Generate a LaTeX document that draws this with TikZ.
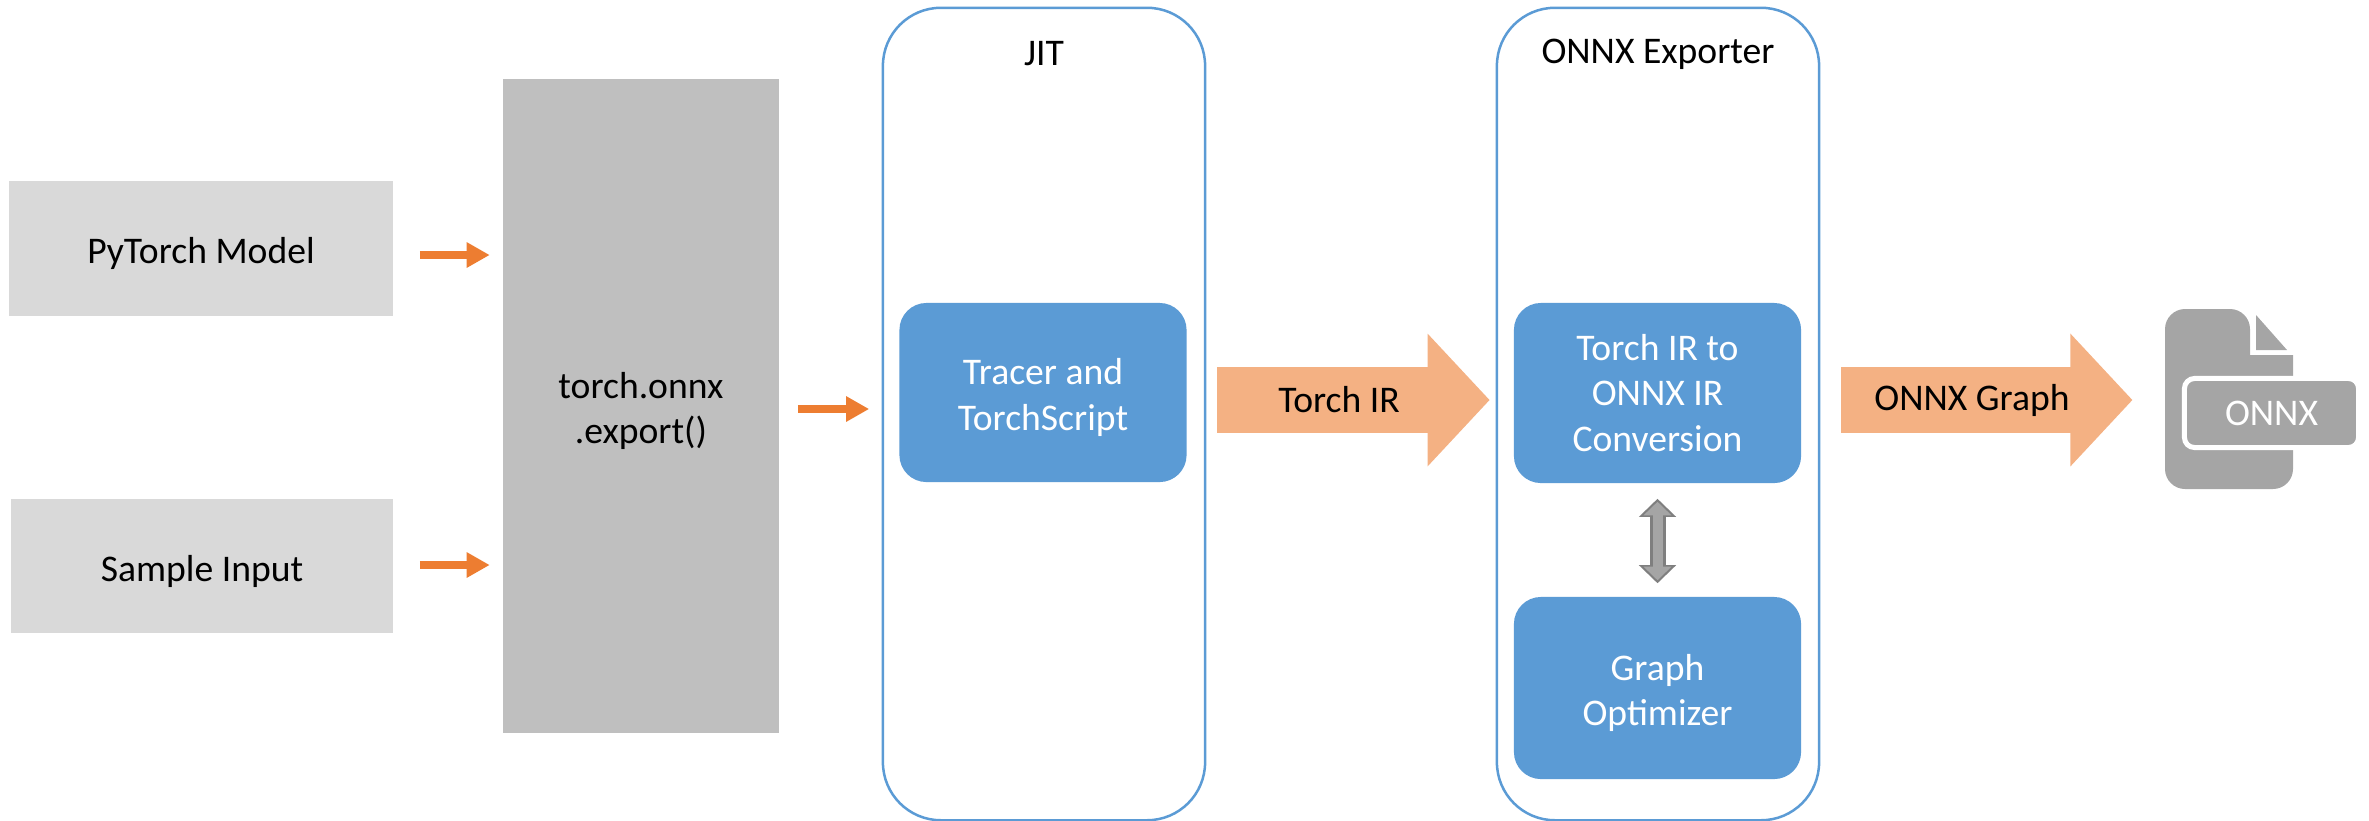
\documentclass[tikz,border=0pt]{standalone}
\usepackage{fontspec}
\setmainfont{Carlito}
\usetikzlibrary{arrows.meta,positioning}
\tikzset{font=\fontsize{10.7}{13}\selectfont}
\definecolor{inputgray}{HTML}{D9D9D9}
\definecolor{exportgray}{HTML}{BFBFBF}
\definecolor{stepblue}{HTML}{5B9BD5}
\definecolor{flowtan}{HTML}{F4B183}
\definecolor{floworange}{HTML}{ED7D31}
\definecolor{icongray}{HTML}{A5A5A5}
\definecolor{edgegray}{HTML}{7F7F7F}
\tikzset{
  inputbox/.style={fill=inputgray,minimum height=1.345cm,inner sep=0pt},
  stage/.style={draw=stepblue,line width=.025cm,fill=white,rounded corners=.58cm,
    minimum width=3.22cm,minimum height=8.12cm},
  stepbox/.style={fill=stepblue,rounded corners=.27cm,minimum width=2.87cm,inner sep=0pt},
  lowtext/.style={yshift=-.05cm,align=center,inner sep=0pt},
  steptext/.style={lowtext,text=white},
  flow/.style={draw=floworange,line width=.08cm,-{Triangle[width=.24cm,length=.23cm]},
    shorten <=.26cm,shorten >=.125cm},
  bigflow/.style={draw=flowtan,line width=.65cm,-{Triangle[width=1.29cm,length=.62cm]}},
  linkouter/.style={draw=edgegray,line width=.16cm,
    {Triangle[width=.36cm,length=.18cm]}-{Triangle[width=.36cm,length=.18cm]},
    shorten <=.15cm,shorten >=.13cm},
  linkinner/.style={draw=icongray,line width=.1cm,
    {Triangle[width=.27cm,length=.135cm]}-{Triangle[width=.27cm,length=.135cm]},
    shorten <=.18cm,shorten >=.16cm},
}
\begin{document}
\begin{tikzpicture}[x=.01cm,y=-.01cm]
  \useasboundingbox (0,0) rectangle (2369,820);
  % inputs and export call
  \node[inputbox,minimum width=3.84cm,label={[lowtext]center:PyTorch Model}] (model) at (201,248.5) {};
  \node[inputbox,minimum width=3.82cm,label={[lowtext]center:Sample Input}] (sample) at (202,566) {};
  \node[fill=exportgray,minimum width=2.76cm,minimum height=6.54cm,inner sep=0pt,
    label={[lowtext]center:torch.onnx\\.export()}] (export) at (641,406) {};
  % the two stages
  \node[stage] (jit) at (1044,414) {};
  \node[stage] (exporter) at (1658,414) {};
  \node (jitlabel) at (1044,54) {JIT};
  \node (exporterlabel) at (1658,54) {ONNX Exporter};
  \node[stepbox,minimum height=1.79cm,label={[steptext]center:Tracer and\\TorchScript}]
    (tracer) at (1043,392.5) {};
  \node[stepbox,minimum height=1.8cm,text=white,align=center] (conv) at (1657.5,393)
    {Torch IR to\\ONNX IR\\Conversion};
  \node[stepbox,minimum height=1.82cm,label={[steptext]center:Graph\\Optimizer}]
    (optim) at (1657.5,688) {};
  % file icon
  \fill[icongray,rounded corners=.2cm] (2165,309) -- (2250,309)
    {[sharp corners] -- (2250,355) -- (2293,355)} -- (2293,489) -- (2165,489) -- cycle;
  \fill[icongray] (2256,315) -- (2287,350) -- (2256,350) -- cycle;
  \coordinate (iconwest) at (2165,400);
  \node[fill=icongray,draw=white,line width=.05cm,rounded corners=.1cm,text=white,
    minimum width=1.74cm,minimum height=.69cm,inner sep=0pt] (onnxfile) at (2271.5,413) {ONNX};
  % connectors
  \draw[flow] (model.east |- 0,255) -- (export.west |- 0,255);
  \draw[flow] (sample.east |- 0,565) -- (export.west |- 0,565);
  \draw[flow,shorten <=.18cm,shorten >=.125cm] (export.east |- 0,409) -- (jit.west |- 0,409);
  \draw[bigflow,shorten <=.11cm,shorten >=.06cm] (jit.east |- 0,400) -- (exporter.west |- 0,400);
  \node (torchir) at (1339,400) {Torch IR};
  \draw[bigflow,shorten <=.21cm,shorten >=.325cm] (exporter.east |- 0,400) -- (iconwest);
  \node (onnxgraph) at (1972,400) {ONNX Graph};
  \draw[linkouter] (conv) -- (optim);
  \draw[linkinner] (conv) -- (optim);
\end{tikzpicture}
\end{document}
